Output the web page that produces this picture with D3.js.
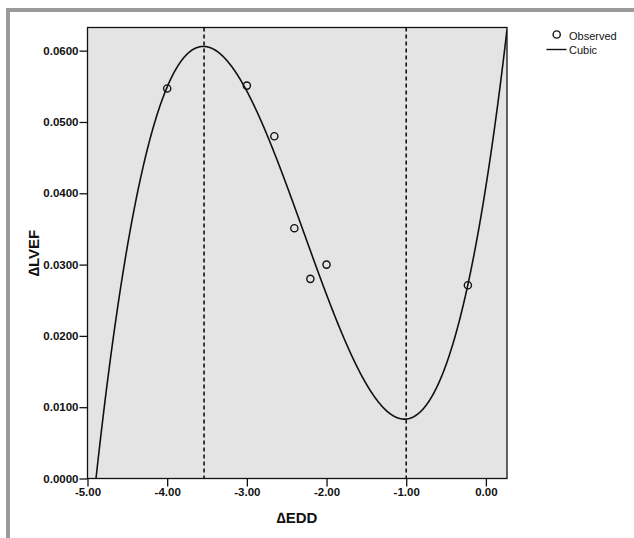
<!DOCTYPE html>
<html>
<head>
<meta charset="utf-8">
<script src="https://cdn.jsdelivr.net/npm/d3@7"></script>
<style>
  html, body { margin: 0; padding: 0; background: #fff; }
  svg { display: block; font-family: "Liberation Sans", Arial, sans-serif; }
</style>
</head>
<body>
<svg id="chart" width="634" height="538"></svg>
<script>
// Observed changes
const edd  = [-4.00, -3.00, -2.655, -2.404, -2.203, -2.00, -0.226];
const lvef = [0.0547, 0.0551, 0.0480, 0.0351, 0.0280, 0.0300, 0.0271];

// Reference lines at the turning points of the cubic
const refLines = [-3.537, -1.00];

const xTicks = [-5, -4, -3, -2, -1, 0];
const yTicks = [0, 0.01, 0.02, 0.03, 0.04, 0.05, 0.06];

const xDomain = [-5, 0.265];
const yDomain = [0, 0.06325];

// Least-squares cubic through the observed points
function cubicFit(xs, ys) {
  const n = 4;
  const A = Array.from({length: n}, () => new Array(n + 1).fill(0));
  xs.forEach((x, k) => {
    const p = [1, x, x * x, x * x * x];
    for (let i = 0; i < n; i++) {
      for (let j = 0; j < n; j++) A[i][j] += p[i] * p[j];
      A[i][n] += p[i] * ys[k];
    }
  });
  for (let c = 0; c < n; c++) {
    let piv = c;
    for (let r = c + 1; r < n; r++) if (Math.abs(A[r][c]) > Math.abs(A[piv][c])) piv = r;
    [A[c], A[piv]] = [A[piv], A[c]];
    for (let r = 0; r < n; r++) {
      if (r === c) continue;
      const f = A[r][c] / A[c][c];
      for (let j = c; j <= n; j++) A[r][j] -= f * A[c][j];
    }
  }
  return A.map((row, i) => row[n] / row[i]);
}
const coef = cubicFit(edd, lvef);
const cubic = x => coef[0] + coef[1] * x + coef[2] * x * x + coef[3] * x * x * x;

// plain hyphen-minus for negative tick labels
const fmt = spec => { const f = d3.format(spec); return d => f(d).replace("\u2212", "-"); };

const svg = d3.select("#chart");

// outer frame
svg.append("rect").attr("x", 0).attr("y", 0).attr("width", 634).attr("height", 538).attr("fill", "#fff");
svg.append("rect").attr("x", 8).attr("y", 10).attr("width", 640).attr("height", 540)
  .attr("fill", "none").attr("stroke", "#9a9a9a").attr("stroke-width", 4);

const plot = {left: 87.5, top: 27.5, right: 507, bottom: 478.5};

const x = d3.scaleLinear().domain(xDomain).range([plot.left, plot.right]);
const y = d3.scaleLinear().domain(yDomain).range([plot.bottom, plot.top]);

svg.append("rect")
  .attr("x", plot.left).attr("y", plot.top)
  .attr("width", plot.right - plot.left).attr("height", plot.bottom - plot.top)
  .attr("fill", "#e4e4e4").attr("stroke", "#111").attr("stroke-width", 1.3);

svg.append("clipPath").attr("id", "plotclip").append("rect")
  .attr("x", plot.left).attr("y", plot.top)
  .attr("width", plot.right - plot.left).attr("height", plot.bottom - plot.top);

const inner = svg.append("g").attr("clip-path", "url(#plotclip)");

// dashed reference lines
inner.selectAll("line.ref").data(refLines).join("line")
  .attr("class", "ref")
  .attr("x1", d => x(d)).attr("x2", d => x(d))
  .attr("y1", plot.top).attr("y2", plot.bottom)
  .attr("stroke", "#111").attr("stroke-width", 1.6)
  .attr("stroke-dasharray", "4,3");

// fitted cubic
const curveX = d3.range(xDomain[0], xDomain[1] + 0.001, 0.005);
inner.append("path")
  .datum(curveX)
  .attr("fill", "none").attr("stroke", "#111").attr("stroke-width", 1.6)
  .attr("d", d3.line().x(d => x(d)).y(d => y(cubic(d))));

// observed points
svg.selectAll("circle.obs").data(edd).join("circle")
  .attr("class", "obs")
  .attr("cx", d => x(d)).attr("cy", (d, i) => y(lvef[i]))
  .attr("r", 3.6)
  .attr("fill", "none").attr("stroke", "#111").attr("stroke-width", 1.4);

// axes
const xAxis = d3.axisBottom(x).tickValues(xTicks).tickFormat(fmt(".2f")).tickSize(8).tickSizeOuter(0);
const gx = svg.append("g").attr("transform", `translate(0,${plot.bottom})`).call(xAxis);
gx.select(".domain").remove();
gx.selectAll("line").attr("stroke", "#111").attr("stroke-width", 1.3);
gx.selectAll("text").attr("fill", "#111").attr("font-size", 11.5).attr("font-weight", "bold").attr("dy", "0.85em").attr("y", 8);

const yAxis = d3.axisLeft(y).tickValues(yTicks).tickFormat(fmt(".4f")).tickSize(8).tickSizeOuter(0);
const gy = svg.append("g").attr("transform", `translate(${plot.left},0)`).call(yAxis);
gy.select(".domain").remove();
gy.selectAll("line").attr("stroke", "#111").attr("stroke-width", 1.3);
gy.selectAll("text").attr("fill", "#111").attr("font-size", 11.5).attr("font-weight", "bold").attr("x", -9);

// axis titles
svg.append("text")
  .attr("x", 297).attr("y", 523)
  .attr("text-anchor", "middle").attr("font-size", 15).attr("font-weight", "bold").attr("fill", "#111")
  .text("\u2206EDD");
svg.append("text")
  .attr("transform", "translate(39,253) rotate(-90)")
  .attr("text-anchor", "middle").attr("font-size", 15).attr("font-weight", "bold").attr("fill", "#111")
  .text("\u2206LVEF");

// legend
const lg = svg.append("g");
lg.append("circle").attr("cx", 556.7).attr("cy", 34.5).attr("r", 3.6)
  .attr("fill", "none").attr("stroke", "#111").attr("stroke-width", 1.4);
lg.append("text").attr("x", 569).attr("y", 39.5).attr("font-size", 11).attr("fill", "#111").text("Observed");
lg.append("line").attr("x1", 546.5).attr("x2", 566.5).attr("y1", 49.5).attr("y2", 49.5)
  .attr("stroke", "#111").attr("stroke-width", 1.4);
lg.append("text").attr("x", 569).attr("y", 54).attr("font-size", 11).attr("fill", "#111").text("Cubic");
</script>
</body>
</html>
